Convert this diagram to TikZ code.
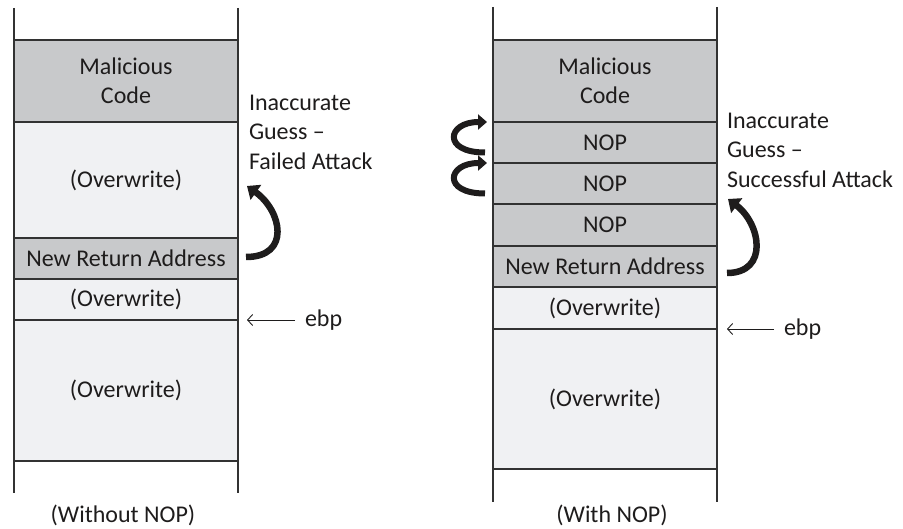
\documentclass[tikz,border=0pt]{standalone}
\usepackage{fontspec}
\setmainfont{Carlito}
\usetikzlibrary{positioning}
\usetikzlibrary{arrows.meta}
\definecolor{cellline}{RGB}{50,50,50}
\definecolor{darkcell}{RGB}{200,201,203}
\definecolor{lightcell}{RGB}{240,241,243}
\definecolor{ink}{RGB}{30,28,28}

\begin{document}
\begin{tikzpicture}[x=1pt, y=-1pt,
	every node/.style={font=\fontsize{24}{29.5}\selectfont, text=ink, inner sep=0pt, outer sep=0pt},
	cell/.style={draw=cellline, line width=2pt, minimum width=224pt, minimum height=#1, align=center},
	dark/.style={cell=#1, fill=darkcell},
	light/.style={cell=#1, fill=lightcell},
	rail/.style={draw=cellline, line width=1.2pt},
	ptr/.style={draw=ink, line width=0.9pt, -{Straight Barb[length=5pt,width=11pt]}},
	jump/.style={draw=ink, line width=6.5pt, -{Triangle[length=11pt,width=18pt]}},
	hop/.style={draw=ink, line width=6pt, -{Triangle[length=9pt,width=15pt]}}]
	\useasboundingbox (0,0) rectangle (903,529);
	\node[dark=82pt, anchor=north west] (lmal) at (14,40) {Malicious\\Code};
	\node[light=116pt, below=0pt of lmal] (lo1) {(Overwrite)};
	\node[dark=41pt, below=0pt of lo1] (lnra) {New Return Address};
	\node[light=41pt, below=0pt of lnra] (lo2) {(Overwrite)};
	\node[light=141pt, below=0pt of lo2] (lo3) {(Overwrite)};
	\coordinate (ltl) at (14,8);
	\coordinate (ltr) at (238,8);
	\coordinate (lbl) at (14,493);
	\coordinate (lbr) at (238,493);
	\draw[rail] (ltl) -- (lmal.north west);
	\draw[rail] (ltr) -- (lmal.north east);
	\draw[rail] (lo3.south west) -- (lbl);
	\draw[rail] (lo3.south east) -- (lbr);
	\node[anchor=north west, align=left] (lguess) at (249,95) {Inaccurate\\Guess –\\Failed Attack};
	\node[anchor=west] (lebp) at (305,320) {ebp};
	\draw[ptr] ([xshift=-10pt]lebp.west) -- ([xshift=9pt]lo2.south east);
	\draw[jump] ([xshift=8pt,yshift=1.5pt]lnra.east) .. controls +(45,0) and +(35,25) .. ([xshift=9pt,yshift=-6pt]lo1.east);
	\node (lcap) at (123,515) {(Without NOP)};
	\node[dark=82pt, anchor=north west] (rmal) at (493,40) {Malicious\\Code};
	\node[dark=41pt, below=0pt of rmal] (rnop1) {NOP};
	\node[dark=41pt, below=0pt of rnop1] (rnop2) {NOP};
	\node[dark=42pt, below=0pt of rnop2] (rnop3) {NOP};
	\node[dark=41pt, below=0pt of rnop3] (rnra) {New Return Address};
	\node[light=42pt, below=0pt of rnra] (ro1) {(Overwrite)};
	\node[light=140pt, below=0pt of ro1] (ro2) {(Overwrite)};
	\coordinate (rtl) at (493,7);
	\coordinate (rtr) at (717,7);
	\coordinate (rbl) at (493,502);
	\coordinate (rbr) at (717,502);
	\draw[rail] (rtl) -- (rmal.north west);
	\draw[rail] (rtr) -- (rmal.north east);
	\draw[rail] (ro2.south west) -- (rbl);
	\draw[rail] (ro2.south east) -- (rbr);
	\node[anchor=north west, align=left] (rguess) at (727,113) {Inaccurate\\Guess –\\Successful Attack};
	\node[anchor=west] (rebp) at (784,329) {ebp};
	\draw[ptr] ([xshift=-10pt]rebp.west) -- ([xshift=10pt]ro1.south east);
	\draw[jump] ([xshift=10pt,yshift=-6.5pt]rnra.east) .. controls +(42,0) and +(33,25) .. ([xshift=11pt,yshift=5pt]rnop3.north east);
	\draw[hop] ([xshift=-8pt,yshift=-10pt]rnop1.west) .. controls +(-43,0) and +(-40,0) .. ([xshift=-6pt]rnop1.north west);
	\draw[hop] ([xshift=-8pt,yshift=-10pt]rnop2.west) .. controls +(-43,0) and +(-40,0) .. ([xshift=-6pt]rnop2.north west);
	\node (rcap) at (612,515) {(With NOP)};
\end{tikzpicture}
\end{document}
